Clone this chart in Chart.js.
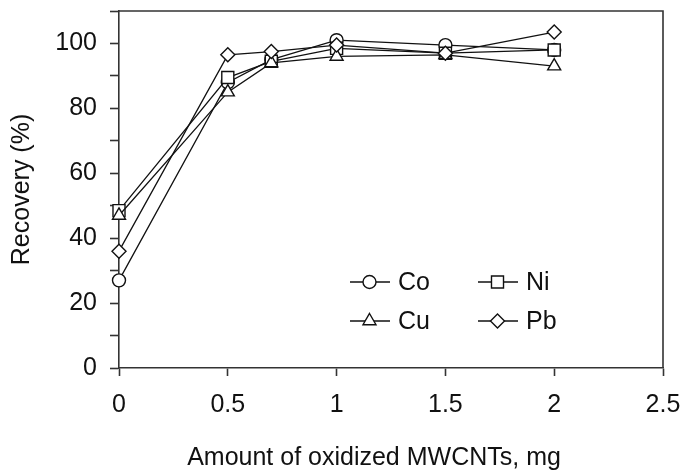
<!DOCTYPE html>
<html>
<head>
<meta charset="utf-8">
<script src="https://cdn.jsdelivr.net/npm/chart.js@4/dist/chart.umd.min.js"></script>
<style>
  html, body { margin: 0; padding: 0; background: #fff; }
  #wrap { width: 684px; height: 475px; }
</style>
</head>
<body>
<div id="wrap"><canvas id="c" width="684" height="475"></canvas></div>
<script>
// Data
const amounts = [0, 0.5, 0.7, 1.0, 1.5, 2.0];
const coRecovery = [27, 88, 95, 101, 99.5, 98];
const niRecovery = [48.5, 89.5, 94.5, 98.5, 97, 98];
const cuRecovery = [47, 85, 94, 96, 96.5, 93];
const pbRecovery = [36, 96.5, 97.5, 99.5, 97, 103.5];
const seriesNames = ['Co', 'Ni', 'Cu', 'Pb'];
const xTickValues = [0, 0.5, 1, 1.5, 2, 2.5];
const yLabelValues = [0, 20, 40, 60, 80, 100];
const xTitle = 'Amount of oxidized MWCNTs, mg';
const yTitle = 'Recovery (%)';

const FONT = "'Liberation Sans', Arial, sans-serif";

function pts(vals) { return amounts.map((x, i) => ({ x: x, y: vals[i] })); }

const styles = [
  { name: seriesNames[0], data: coRecovery, pointStyle: 'circle', radius: 6.5, order: 3 },
  { name: seriesNames[1], data: niRecovery, pointStyle: 'rect', radius: 8.5, order: 2 },
  { name: seriesNames[2], data: cuRecovery, pointStyle: 'triangle', radius: 7.5, order: 1 },
  { name: seriesNames[3], data: pbRecovery, pointStyle: 'rectRot', radius: 7, order: 0 }
];

const datasets = styles.map(s => ({
  label: s.name,
  data: pts(s.data),
  borderColor: '#111',
  backgroundColor: '#fff',
  borderWidth: 1.3,
  pointStyle: s.pointStyle,
  pointRadius: s.radius,
  pointBorderWidth: 1.4,
  pointBorderColor: '#111',
  pointBackgroundColor: '#fff',
  tension: 0,
  fill: false,
  clip: false,
  order: s.order
}));

const framePlugin = {
  id: 'frame',
  beforeDatasetsDraw(chart) {
    const { ctx, chartArea: a } = chart;
    ctx.save();
    ctx.strokeStyle = '#333';
    ctx.lineWidth = 1.6;
    ctx.beginPath();
    ctx.moveTo(a.left, a.top);
    ctx.lineTo(a.right, a.top);
    ctx.lineTo(a.right, a.bottom);
    ctx.stroke();
    ctx.restore();
  }
};

const xTitlePlugin = {
  id: 'xTitle',
  afterDraw(chart) {
    const { ctx } = chart;
    ctx.save();
    ctx.fillStyle = '#111';
    ctx.font = "25px " + FONT;
    ctx.textAlign = 'center';
    ctx.textBaseline = 'middle';
    ctx.fillText(xTitle, 374, 458);
    ctx.restore();
  }
};

const legendPlugin = {
  id: 'customLegend',
  afterDraw(chart) {
    const { ctx } = chart;
    const cols = [350, 478];
    const rows = [282, 321];
    const order = [0, 1, 2, 3];
    ctx.save();
    order.forEach((di, k) => {
      const ds = chart.data.datasets[di];
      const x0 = cols[k % 2];
      const y = rows[Math.floor(k / 2)];
      ctx.strokeStyle = '#111';
      ctx.lineWidth = 1.3;
      ctx.beginPath();
      ctx.moveTo(x0, y);
      ctx.lineTo(x0 + 40, y);
      ctx.stroke();
      ctx.fillStyle = '#fff';
      ctx.lineWidth = 1.4;
      Chart.helpers.drawPoint(ctx, {
        pointStyle: ds.pointStyle,
        radius: ds.pointRadius,
        rotation: 0,
        borderWidth: 1.4
      }, x0 + 19.5, y);
      ctx.fillStyle = '#111';
      ctx.font = "25px " + FONT;
      ctx.textBaseline = 'middle';
      ctx.textAlign = 'left';
      ctx.fillText(ds.label, x0 + 48, y + 1);
    });
    ctx.restore();
  }
};

new Chart(document.getElementById('c'), {
  type: 'line',
  data: { datasets: datasets },
  options: {
    responsive: false,
    animation: false,
    devicePixelRatio: 1,
    layout: { padding: { top: 11, right: 21, left: 0, bottom: 0 } },
    plugins: { legend: { display: false }, tooltip: { enabled: false } },
    scales: {
      x: {
        type: 'linear',
        min: 0, max: 2.5,
        afterFit(scale) {
          scale.height = 107;
          scale.paddingLeft = 0; scale.paddingRight = 0;
        },
        afterBuildTicks(scale) { scale.ticks = xTickValues.map(v => ({ value: v })); },
        ticks: {
          color: '#111',
          font: { family: FONT, size: 25 },
          padding: 14,
          maxRotation: 0,
          autoSkip: false,
          callback: (v) => String(v)
        },
        grid: { drawOnChartArea: false, drawTicks: true, tickLength: 8, tickColor: '#333', tickWidth: 1.6 },
        border: { display: true, color: '#333', width: 1.6 },
        title: { display: false, text: xTitle }
      },
      y: {
        type: 'linear',
        min: 0, max: 110,
        afterFit(scale) {
          scale.width = 119;
          scale.paddingTop = 0; scale.paddingBottom = 0;
        },
        ticks: {
          stepSize: 10,
          color: '#111',
          font: { family: FONT, size: 25 },
          padding: 13,
          autoSkip: false,
          callback: (v) => (yLabelValues.includes(v) ? String(v) : '')
        },
        grid: { drawOnChartArea: false, drawTicks: true, tickLength: 9, tickColor: '#333', tickWidth: 1.6 },
        border: { display: true, color: '#333', width: 1.6 },
        title: {
          display: true,
          text: yTitle,
          color: '#111',
          font: { family: FONT, size: 25 },
          padding: { top: 7, bottom: 0 }
        }
      }
    }
  },
  plugins: [framePlugin, legendPlugin, xTitlePlugin]
});
</script>
</body>
</html>
